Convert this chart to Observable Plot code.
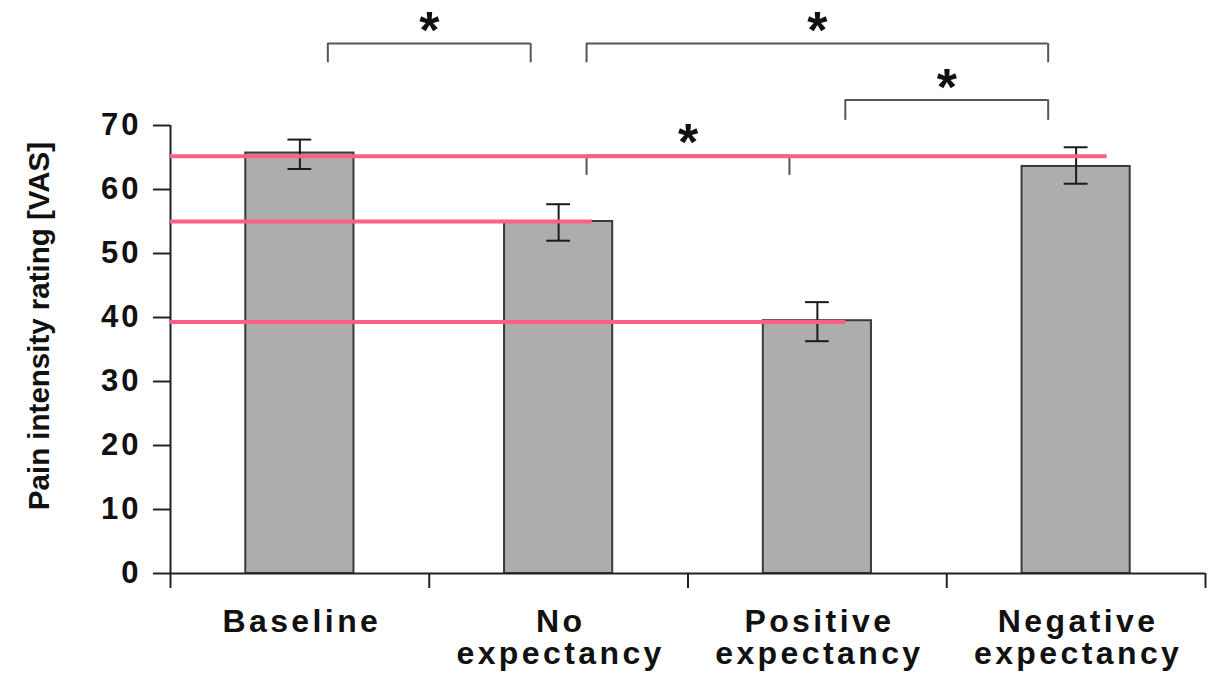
<!DOCTYPE html>
<html>
<head>
<meta charset="utf-8">
<script src="https://cdn.jsdelivr.net/npm/d3@7"></script>
<script src="https://cdn.jsdelivr.net/npm/@observablehq/plot@0.6"></script>
<style>
  body { margin: 0; background: #fff; }
  #chart svg { display: block; }
</style>
</head>
<body>
<div id="chart"></div>
<script>
// ---- data ----
const categories = ["Baseline", "No\nexpectancy", "Positive\nexpectancy", "Negative\nexpectancy"];
const means   = [65.7, 55.0, 39.5, 63.6];
const errLow  = [63.2, 52.0, 36.3, 60.9];
const errHigh = [67.8, 57.7, 42.4, 66.6];
const yTicks  = [0, 10, 20, 30, 40, 50, 60, 70];
const yLabel  = "Pain intensity rating [VAS]";

// significance brackets (category indices)
const bracketFrom   = [0, 1, 2, 1];
const bracketTo     = [1, 3, 3, 2];
const bracketTop    = [82.8, 82.8, 74.0, 65.3];
const bracketBottom = [79.8, 79.8, 70.8, 62.2];
const bracketLabels = ["*", "*", "*", "*"];

// pink reference lines
const refValues = [65.2, 55.0, 39.3];
const refEnds   = [3.12, 1.13, 2.11];

// ---- derived tables ----
const halfBar = 0.209, halfCap = 0.046, inset = 0.108;
const rows = categories.map((c, i) => ({i, label: c, mean: means[i], lo: errLow[i], hi: errHigh[i]}));
const brackets = bracketFrom.map((f, k) => ({
  x1: f + inset, x2: bracketTo[k] - inset, mid: (f + bracketTo[k]) / 2,
  top: bracketTop[k], bottom: bracketBottom[k], label: bracketLabels[k]
}));
const refs = refValues.map((v, k) => ({y: v, x2: refEnds[k]}));
const boundaries = d3.range(categories.length + 1).map(k => k - 0.5);

const axisColor = "#222";
const bracketColor = "#555";

const chart = Plot.plot({
  width: 1209,
  height: 680,
  marginLeft: 170,
  marginRight: 4,
  marginTop: 0,
  marginBottom: 107,
  x: {domain: [-0.5, categories.length - 0.5], axis: null},
  y: {domain: [0, 573 / 6.4], axis: null},
  style: {fontFamily: "'Liberation Sans', Arial, sans-serif", background: "#fff", color: "#111"},
  marks: [
    // bars
    Plot.rectY(rows, {x1: d => d.i - halfBar, x2: d => d.i + halfBar, y1: 0, y2: "mean",
      fill: "#adadad", stroke: "#3a3a3a", strokeWidth: 2}),
    // error bars
    Plot.ruleX(rows, {x: "i", y1: "lo", y2: "hi", stroke: "#1a1a1a", strokeWidth: 2}),
    Plot.ruleY(rows, {y: "hi", x1: d => d.i - halfCap, x2: d => d.i + halfCap, stroke: "#1a1a1a", strokeWidth: 2}),
    Plot.ruleY(rows, {y: "lo", x1: d => d.i - halfCap, x2: d => d.i + halfCap, stroke: "#1a1a1a", strokeWidth: 2}),
    // brackets
    Plot.ruleY(brackets, {y: "top", x1: "x1", x2: "x2", stroke: bracketColor, strokeWidth: 2}),
    Plot.ruleX(brackets, {x: "x1", y1: "bottom", y2: "top", stroke: bracketColor, strokeWidth: 2}),
    Plot.ruleX(brackets, {x: "x2", y1: "bottom", y2: "top", stroke: bracketColor, strokeWidth: 2}),
    Plot.text(brackets, {x: "mid", y: "top", text: "label", fontSize: 52, fontWeight: "bold",
      lineAnchor: "middle", dy: -12, fill: "#111"}),
    // axes
    Plot.ruleX([-0.5], {y1: 0, y2: 70, stroke: axisColor, strokeWidth: 2}),
    Plot.ruleY([0], {x1: -0.5, x2: categories.length - 0.5, stroke: axisColor, strokeWidth: 2}),
    Plot.axisY({ticks: yTicks, tickSize: 17, tickPadding: 12, fontSize: 31, fontWeight: "bold",
      stroke: axisColor, strokeWidth: 2, label: null}),
    Plot.axisX({ticks: boundaries, tickSize: 15, tickFormat: () => "", stroke: axisColor, strokeWidth: 2, label: null}),
    Plot.text(rows, {x: "i", y: 0, text: "label", lineAnchor: "top", dy: 35, dx: 2, fontSize: 32,
      fontWeight: "bold", lineHeight: 1.02, fill: "#111"}),
    Plot.text([yLabel], {frameAnchor: "left", textAnchor: "middle", rotate: -90, dx: -131, dy: 39,
      fontSize: 29.5, fontWeight: "bold", fill: "#111"}),
    // pink reference lines
    Plot.ruleY(refs, {y: "y", x1: -0.5, x2: "x2", stroke: "#fe5f85", strokeWidth: 4})
  ]
});
document.getElementById("chart").append(chart);

// style-only tweaks: widen the bold labels like the reference typeface
const textGroups = d3.select(chart).selectAll('g[aria-label="text"]');
textGroups.filter((d, i) => i === 1).style("letter-spacing", "3.4px");
d3.select(chart).selectAll('g[aria-label="y-axis tick label"]').style("letter-spacing", "3px");
</script>
</body>
</html>
